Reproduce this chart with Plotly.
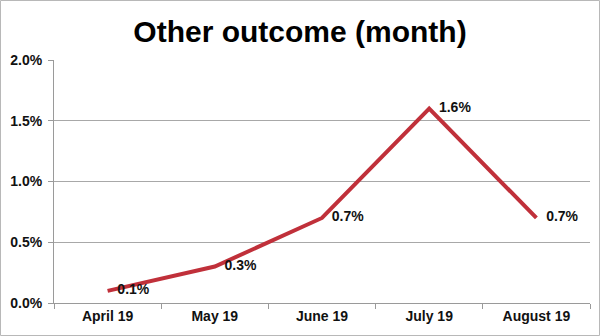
import plotly.graph_objects as go

# Monthly share of "other" outcomes
months = ["April 19", "May 19", "June 19", "July 19", "August 19"]
rates = [0.001, 0.003, 0.007, 0.016, 0.007]
y_ticks = [0.0, 0.005, 0.010, 0.015, 0.020]
y_tick_labels = ["0.0%", "0.5%", "1.0%", "1.5%", "2.0%"]

W, H = 600, 336
L, R, T, B = 54, 10, 60, 33
pw, ph = W - L - R, H - T - B

fig = go.Figure()
fig.add_trace(go.Scatter(
    x=months,
    y=rates,
    mode="lines+markers+text",
    line=dict(color="#c0303a", width=4),
    marker=dict(size=14, color="rgba(0,0,0,0)"),
    text=[f"{v * 100:.1f}%" for v in rates],
    textposition="middle right",
    textfont=dict(family="Liberation Sans, Arial", size=14, color="#111111", weight="bold"),
    cliponaxis=False,
    hoverinfo="skip",
))

# light frame around the whole chart
fig.add_shape(
    type="rect", xref="paper", yref="paper", layer="below",
    x0=(0.5 - L) / pw, x1=(W - 0.5 - L) / pw,
    y0=(T + ph - (H - 0.5)) / ph, y1=(T + ph - 0.5) / ph,
    line=dict(color="#b8b8b8", width=1), fillcolor="rgba(0,0,0,0)",
)

fig.update_layout(
    width=W, height=H,
    margin=dict(l=L, r=R, t=T, b=B),
    paper_bgcolor="white", plot_bgcolor="white",
    showlegend=False,
    title=dict(
        text="<b>Other outcome (month)</b>",
        x=0.5, xanchor="center", y=1 - 31 / H, yanchor="middle",
        font=dict(family="Liberation Sans, Arial", size=30, color="black"),
    ),
    font=dict(family="Liberation Sans, Arial", color="#111111"),
)
fig.update_xaxes(
    type="category",
    showline=True, linecolor="#9a9a9a", linewidth=1,
    ticks="outside", tickson="boundaries", ticklen=5, tickcolor="#9a9a9a",
    showgrid=False,
    tickfont=dict(size=14, weight="bold"),
    range=[-0.5, 4.5],
    fixedrange=True,
)
fig.update_yaxes(
    range=[0, 0.02],
    tickvals=y_ticks, ticktext=y_tick_labels,
    showline=True, linecolor="#9a9a9a", linewidth=1,
    ticks="outside", ticklen=5, tickcolor="#9a9a9a",
    showgrid=True, gridcolor="#a8a8a8", gridwidth=1,
    zeroline=False,
    tickfont=dict(size=14, weight="bold"),
    ticklabelstandoff=3,
    fixedrange=True,
)

fig.write_html("out.html")
